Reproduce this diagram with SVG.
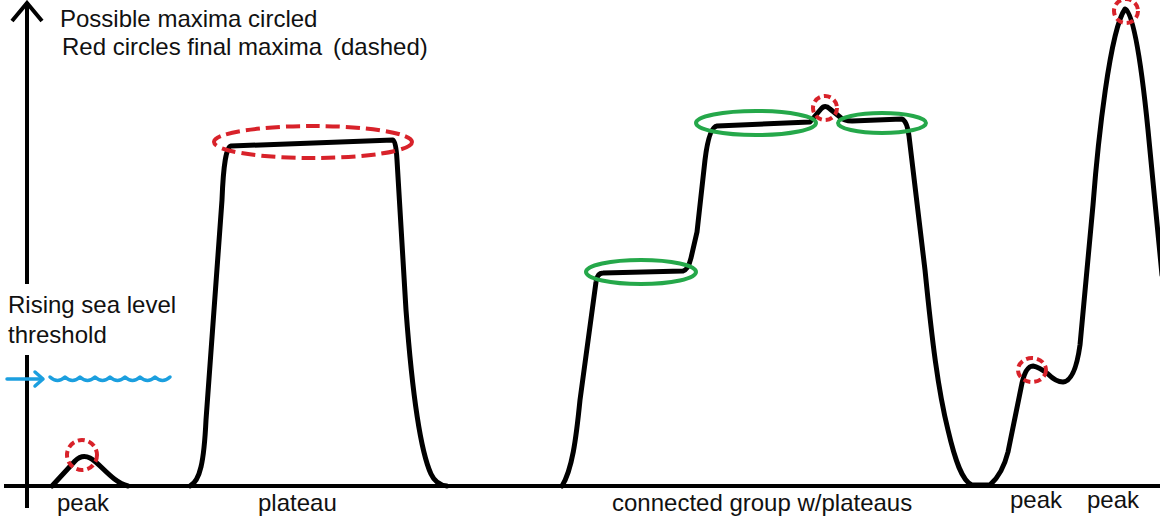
<svg xmlns="http://www.w3.org/2000/svg" width="1160" height="521" viewBox="0 0 1160 521">
<style>
.t{font-family:"Liberation Sans",Arial,sans-serif;font-size:24px;fill:#111}
.ax{stroke:#000;stroke-width:4;fill:none;stroke-linecap:butt}
.terrain{stroke:#000;stroke-width:5;fill:none;stroke-linejoin:round;stroke-linecap:round}
.green{stroke:#25a84a;stroke-width:4;fill:none}
.red{stroke:#d8222a;stroke-width:4;fill:none;stroke-dasharray:7 4}
.redbig{stroke:#d8222a;stroke-width:4;fill:none;stroke-dasharray:14 6}
.blue{stroke:#1b9fdf;stroke-width:3.5;fill:none;stroke-linecap:round;stroke-linejoin:round}
</style>
<rect width="1160" height="521" fill="#fff"/>
<g id="axes">
<line class="ax" x1="27" y1="2" x2="27" y2="284"/>
<line class="ax" x1="27" y1="355" x2="27" y2="508"/>
<polyline class="ax" points="12,21 27,3 42,21" stroke-linejoin="miter"/>
<line class="ax" x1="4" y1="486" x2="1160" y2="486"/>
</g>
<g id="title">
<text class="t" x="60" y="27">Possible maxima circled</text>
<text class="t" x="62" y="55">Red circles final maxima</text>
<text class="t" x="333" y="55">(dashed)</text>
</g>
<g id="sea-level">
<text class="t" x="8" y="313">Rising sea level</text>
<text class="t" x="8" y="343">threshold</text>
<line class="blue" x1="7" y1="379" x2="42" y2="379"/>
<polyline class="blue" points="35,372 43,379 35,386"/>
<path class="blue" d="M50,377 q7.5,7 15,0 q7.5,7 15,0 q7.5,7 15,0 q7.5,7 15,0 q7.5,7 15,0 q7.5,7 15,0 q7.5,7 15,0 q7.5,7 15,0"/>
</g>
<g id="connectors">
<path class="terrain" d="M52,486 L75,461 Q82,454 90,458 C100,463 112,482 128,486"/>
<path class="terrain" d="M190,486 C200,481 204,462 206,420 L222,200 Q224,147 231,146 L393,140 Q396,142 397,160 L406,310 C412,390 420,450 431,474 Q436,485 447,486"/>
<path class="terrain" d="M562,486 C572,470 576,440 580,400 L596,282 Q597,273 603,273 L683,271 Q688,270 691,258 L697,232 L705,160 Q709,127 717,126 L810,122 L821,109 Q825,104 830,109 L840,117 Q844,121 852,121 L902,119 Q907,121 909,136 L925,270 C932,340 938,390 948,430 C955,460 962,481 972,485 L990,485 C998,478 1004,468 1008,452 L1021,388 Q1025,366 1033,366 Q1039,367 1048,374 Q1056,382 1063,382 Q1075,381 1080,345 L1093,205 C1098,140 1110,30 1125,9 C1132,10 1140,50 1148,130 L1162,275"/>
</g>
<g id="maximum-small-peak"><circle class="red" cx="82" cy="455" r="15"/></g>
<g id="maximum-plateau"><ellipse class="redbig" cx="313" cy="142" rx="99" ry="16"/></g>
<g id="possible-step"><ellipse class="green" cx="641" cy="272" rx="55" ry="12"/></g>
<g id="possible-upper-left"><ellipse class="green" cx="756" cy="123" rx="60" ry="12"/></g>
<g id="maximum-bump"><circle class="red" cx="825" cy="108" r="12"/></g>
<g id="possible-upper-right"><ellipse class="green" cx="882" cy="123" rx="44" ry="10"/></g>
<g id="maximum-right-bump"><ellipse class="red" cx="1032" cy="370" rx="14" ry="12"/></g>
<g id="maximum-top-peak"><circle class="red" cx="1126" cy="11" r="12"/></g>
<g id="labels">
<text class="t" x="57" y="511">peak</text>
<text class="t" x="258" y="511">plateau</text>
<text class="t" x="612" y="511">connected group w/plateaus</text>
<text class="t" x="1010" y="508">peak</text>
<text class="t" x="1087" y="508">peak</text>
</g>
</svg>
